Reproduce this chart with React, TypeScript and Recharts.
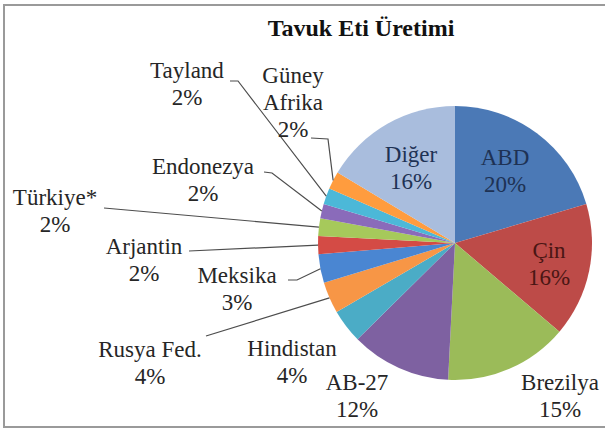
import React from 'react';
import { PieChart, Pie, Cell } from 'recharts';

const NAMES = ['ABD', 'Çin', 'Brezilya', 'AB-27', 'Hindistan', 'Rusya Fed.', 'Meksika', 'Arjantin', 'Türkiye*', 'Endonezya', 'Tayland', 'Güney Afrika', 'Diğer'];
const VALUES = [20.4, 15.8, 14.6, 11.8, 4.0, 3.7, 3.4, 2.1, 2.1, 1.7, 1.9, 2.1, 16.4];
const COLORS = ['#4B79B6', '#BD4B48', '#9BBB59', '#7E61A1', '#4BACC6', '#F79646', '#4A86D2', '#D44B45', '#A6C95B', '#8A6BBA', '#4CB8D8', '#FF9C3E', '#A9BDDD'];
const TITLE = 'Tavuk Eti Üretimi';

const data = NAMES.map((name, i) => ({ name, value: VALUES[i] }));

type Layout = { x: number; y: number; lines?: string[]; color?: string; leader?: number[][] };
const LABEL_LAYOUT: Record<string, Layout> = {
  'ABD': { x: 505, y: 165, color: '#1E3254' },
  'Çin': { x: 549, y: 258, color: '#4A1614' },
  'Brezilya': { x: 560, y: 390 },
  'AB-27': { x: 357, y: 390 },
  'Hindistan': { x: 292, y: 356 },
  'Rusya Fed.': { x: 150, y: 357, leader: [[206, 336]] },
  'Meksika': { x: 237, y: 283, leader: [[288, 280], [297, 280]] },
  'Arjantin': { x: 144, y: 254, leader: [[189, 251]] },
  'Türkiye*': { x: 55, y: 205, leader: [[104, 208]] },
  'Endonezya': { x: 203, y: 174, leader: [[264, 172], [272, 173]] },
  'Tayland': { x: 187, y: 78, leader: [[230, 81], [238, 81]] },
  'Güney Afrika': { x: 293, y: 83, lines: ['Güney', 'Afrika'], leader: [[311, 138], [328, 139]] },
  'Diğer': { x: 411, y: 162, color: '#1E3254' },
};

const FONT = 'Liberation Serif';
const RADIAN = Math.PI / 180;
const LINE_H = 27;

const renderLabel = (props: any) => {
  const { cx, cy, midAngle, outerRadius, percent, name } = props;
  const lay = LABEL_LAYOUT[name];
  if (!lay) return null;
  const lines = [...(lay.lines || [name]), `${Math.round(percent * 100)}%`];
  let leader = null;
  if (lay.leader) {
    const px = cx + outerRadius * Math.cos(-midAngle * RADIAN);
    const py = cy + outerRadius * Math.sin(-midAngle * RADIAN);
    const pts = [...lay.leader, [px, py]].map((p) => p.join(',')).join(' ');
    leader = <polyline points={pts} fill="none" stroke="#4d4d4d" strokeWidth={1.2} />;
  }
  return (
    <g>
      {leader}
      {lines.map((t, i) => (
        <text key={i} x={lay.x} y={lay.y + i * LINE_H} textAnchor="middle" style={{ fontFamily: FONT, fontSize: 23 }} fill={lay.color || '#262626'}>
          {t}
        </text>
      ))}
    </g>
  );
};

export default function App() {
  return (
    <div style={{ position: 'fixed', left: 0, top: 0, width: 605, height: 428, overflow: 'hidden', background: '#fff', fontFamily: FONT }}>
      <svg width={605} height={428} style={{ position: 'absolute', left: 0, top: 0 }}>
        <rect x={4} y={5} width={640} height={422} fill="none" stroke="#9a9a9a" strokeWidth={2} />
        <text x={361} y={36} textAnchor="middle" style={{ fontFamily: FONT, fontWeight: 'bold', fontSize: 24 }} fill="#111">
          {TITLE}
        </text>
      </svg>
      <div style={{ position: 'absolute', left: 0, top: 0 }}>
        <PieChart width={605} height={428} margin={{ top: 0, right: 0, bottom: 0, left: 0 }}>
          <Pie
            data={data}
            dataKey="value"
            nameKey="name"
            cx={455}
            cy={243}
            outerRadius={137}
            startAngle={90}
            endAngle={-270}
            stroke="none"
            label={renderLabel}
            labelLine={false}
            isAnimationActive={false}
          >
            {data.map((d, i) => (
              <Cell key={d.name} fill={COLORS[i]} />
            ))}
          </Pie>
        </PieChart>
      </div>
    </div>
  );
}
